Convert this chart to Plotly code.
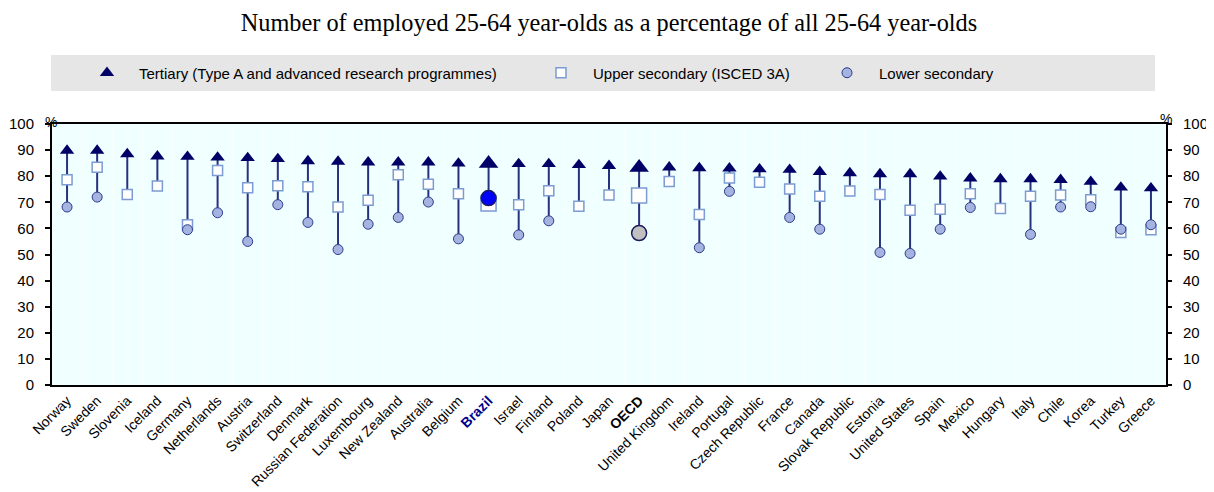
import plotly.graph_objects as go

countries = ["Norway", "Sweden", "Slovenia", "Iceland", "Germany", "Netherlands", "Austria",
             "Switzerland", "Denmark", "Russian Federation", "Luxembourg", "New Zealand",
             "Australia", "Belgium", "Brazil", "Israel", "Finland", "Poland", "Japan", "OECD",
             "United Kingdom", "Ireland", "Portugal", "Czech Republic", "France", "Canada",
             "Slovak Republic", "Estonia", "United States", "Spain", "Mexico", "Hungary", "Italy",
             "Chile", "Korea", "Turkey", "Greece"]

tertiary = [89.8, 89.8, 88.5, 87.6, 87.5, 87.2, 87.0, 86.6, 85.8, 85.6, 85.3, 85.3, 85.3, 84.9,
            84.9, 84.7, 84.7, 84.3, 84.0, 83.3, 83.4, 83.1, 83.0, 82.7, 82.5, 81.7, 81.2, 80.8,
            80.8, 79.9, 79.2, 78.9, 78.9, 78.6, 77.9, 75.7, 75.4]

upper_secondary = [78.6, 83.4, 73.0, 76.2, 61.4, 82.2, 75.6, 76.3, 76.0, 68.2, 70.8, 80.6, 76.9,
                   73.3, 69.5, 69.1, 74.4, 68.5, 72.8, 72.6, 78.0, 65.3, 79.3, 77.7, 75.1, 72.3,
                   74.3, 73.0, 67.0, 67.3, 73.3, 67.6, 72.3, 72.8, 71.0, 58.4, 59.5]

lower_secondary = [68.2, 72.0, None, None, 59.5, 66.0, 55.0, 69.1, 62.3, 51.9, 61.6, 64.2, 70.1,
                   56.0, 71.6, 57.5, 62.9, None, None, 58.2, None, 52.6, 74.2, None, 64.2, 59.7,
                   None, 50.8, 50.4, 59.7, 68.0, None, 57.7, 68.2, 68.3, 59.7, 61.4]

highlight = {"Brazil": "#0000FF", "OECD": "#C0C0C0"}

tick_text = []
for c in countries:
    if c == "Brazil":
        tick_text.append("<b><span style='color:#00008B'>Brazil</span></b>")
    elif c == "OECD":
        tick_text.append("<b>OECD</b>")
    else:
        tick_text.append(c)

# connecting lines (from highest to lowest value in each column)
lx, ly = [], []
for c, t, u, l in zip(countries, tertiary, upper_secondary, lower_secondary):
    vals = [v for v in (t, u, l) if v is not None]
    lx += [c, c, None]
    ly += [max(vals), min(vals), None]

norm_idx = [i for i, c in enumerate(countries) if c not in highlight]
hi_idx = [i for i, c in enumerate(countries) if c in highlight]

def pick(arr, idx):
    return [arr[i] for i in idx]

fig = go.Figure()

fig.add_trace(go.Scatter(x=lx, y=ly, mode="lines", line=dict(color="#27327F", width=2),
                         showlegend=False, hoverinfo="skip"))

# Upper secondary
fig.add_trace(go.Scatter(x=pick(countries, norm_idx), y=pick(upper_secondary, norm_idx),
                         mode="markers", name="Upper secondary (ISCED 3A)",
                         marker=dict(symbol="square", size=10, color="white",
                                     line=dict(color="#7B9BD2", width=1.5)),
                         legend="legend2"))
fig.add_trace(go.Scatter(x=pick(countries, hi_idx), y=pick(upper_secondary, hi_idx),
                         mode="markers", showlegend=False,
                         marker=dict(symbol="square", size=15, color="white",
                                     line=dict(color="#7B9BD2", width=1.5))))

# Lower secondary
fig.add_trace(go.Scatter(x=pick(countries, norm_idx), y=pick(lower_secondary, norm_idx),
                         mode="markers", name="Lower secondary",
                         marker=dict(symbol="circle", size=10, color="#A4B3E0",
                                     line=dict(color="#2D3A8C", width=1)),
                         legend="legend3"))
fig.add_trace(go.Scatter(x=pick(countries, hi_idx), y=pick(lower_secondary, hi_idx),
                         mode="markers", showlegend=False,
                         marker=dict(symbol="circle", size=15,
                                     color=[highlight[countries[i]] for i in hi_idx],
                                     line=dict(color="#1A1A5E", width=1.5))))

# Tertiary
fig.add_trace(go.Scatter(x=pick(countries, norm_idx), y=pick(tertiary, norm_idx),
                         mode="markers", name="Tertiary (Type A and advanced research programmes)",
                         marker=dict(symbol="triangle-up", size=12.5, color="#000066",
                                     line=dict(width=0)),
                         legend="legend"))
fig.add_trace(go.Scatter(x=pick(countries, hi_idx), y=pick(tertiary, hi_idx),
                         mode="markers", showlegend=False,
                         marker=dict(symbol="triangle-up", size=17, color="#000066",
                                     line=dict(width=0))))

# invisible trace for the right axis
fig.add_trace(go.Scatter(x=countries, y=tertiary, yaxis="y2", mode="markers",
                         marker=dict(opacity=0), showlegend=False, hoverinfo="skip"))

# the page body adds an 8px offset; the figure is sized so the plot lands at the right place
OFF = 8
W, H = 1214 - OFF, 492 - OFF
PL, PR, PT, PB = 52, 1166, 124, 385          # plot area in screen pixels
L, R, T, B = PL - OFF, W + OFF - PR, PT - OFF, H + OFF - PB
pw, ph = PR - PL, PB - PT

def px_x(p):
    return (p - PL) / pw

def px_y(p):
    return 1 + (PT - p) / ph

legend_font = dict(family="Liberation Sans, Arial", size=15, color="#000000")
leg_common = dict(orientation="h", bgcolor="rgba(0,0,0,0)", font=legend_font,
                  yanchor="middle", y=px_y(73), xanchor="left", itemwidth=54,
                  itemclick=False, itemdoubleclick=False)

axis_font = dict(family="Liberation Sans, Arial", size=15, color="#000000")

fig.update_layout(
    width=W, height=H,
    margin=dict(l=L, r=R, t=T, b=B, autoexpand=False),
    paper_bgcolor="white",
    plot_bgcolor="#F0FFFF",
    title=dict(text="Number of employed 25-64 year-olds as a percentage of all 25-64 year-olds",
               font=dict(family="Liberation Serif, Times New Roman, serif", size=24.3,
                         color="#000000"),
               x=0.5, xref="paper", xanchor="center",
               y=1 - (22 - OFF) / H, yref="container", yanchor="middle"),
    legend=dict(**leg_common, x=px_x(108 - 33)),
    legend2=dict(**leg_common, x=px_x(562 - 33)),
    legend3=dict(**leg_common, x=px_x(848 - 33)),
    xaxis=dict(type="category", categoryorder="array", categoryarray=countries,
               tickvals=countries, ticktext=tick_text, tickangle=-45, automargin=False,
               tickfont=dict(family="Liberation Sans, Arial", size=14, color="#000000"),
               range=[-0.5, len(countries) - 0.5],
               showline=True, linecolor="#000000", linewidth=2, mirror=True,
               ticks="", tickson="boundaries", showgrid=True, gridcolor="#F8FFFF",
               gridwidth=1, zeroline=False, fixedrange=True),
    yaxis=dict(range=[0, 100], tickvals=list(range(0, 101, 10)), tickfont=axis_font,
               ticks="outside", ticklen=5, tickwidth=1.5, tickcolor="#000000",
               ticklabelstandoff=8, automargin=False,
               showline=True, linecolor="#000000", linewidth=2, mirror=True,
               showgrid=False, zeroline=False, fixedrange=True),
    yaxis2=dict(range=[0, 100], tickvals=list(range(0, 101, 10)), tickfont=axis_font,
                overlaying="y", side="right", anchor="x", automargin=False,
                ticks="outside", ticklen=5, tickwidth=1.5, tickcolor="#000000",
                ticklabelstandoff=8,
                showline=False, showgrid=False, zeroline=False, fixedrange=True),
    shapes=[dict(type="rect", xref="paper", yref="paper", layer="below",
                 x0=px_x(51), x1=px_x(1155), y0=px_y(91), y1=px_y(55),
                 fillcolor="#E6E6E6", line=dict(width=0))],
    annotations=[
        dict(text="%", xref="paper", yref="paper", x=px_x(43), y=px_y(112),
             showarrow=False, font=dict(family="Liberation Sans, Arial", size=14,
                                        color="#000000")),
        dict(text="%", xref="paper", yref="paper", x=px_x(1174), y=px_y(109),
             showarrow=False, font=dict(family="Liberation Sans, Arial", size=14,
                                        color="#000000")),
    ],
)

fig.write_html("out.html")
